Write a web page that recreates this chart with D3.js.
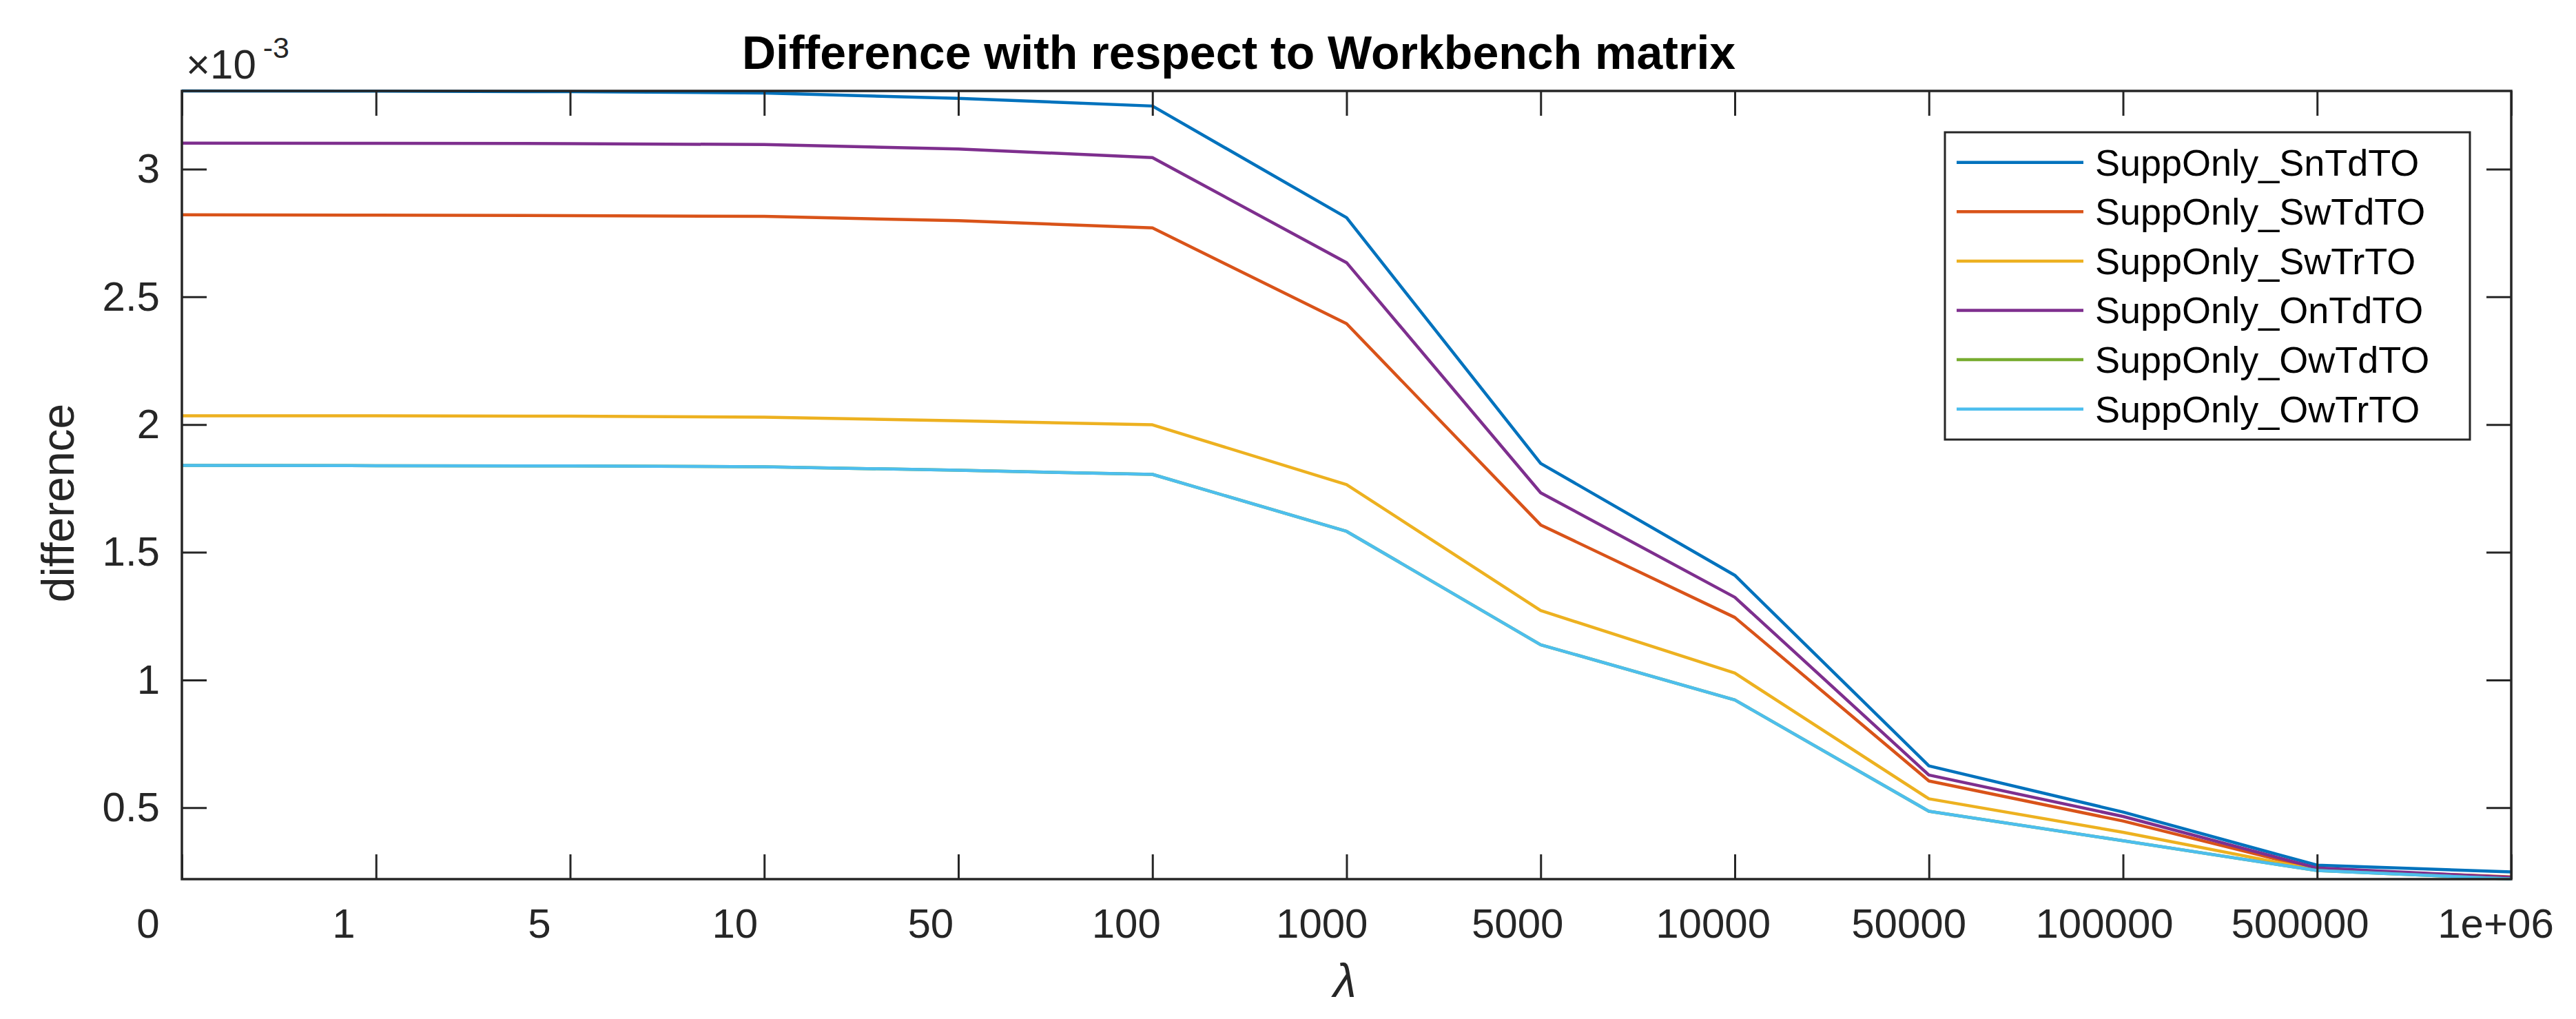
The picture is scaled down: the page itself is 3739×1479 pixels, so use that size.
<!DOCTYPE html>
<html>
<head>
<meta charset="utf-8">
<script src="https://cdn.jsdelivr.net/npm/d3@7"></script>
<style>
  body { margin: 0; background: #fff; }
  text { font-family: "Liberation Sans", Arial, Helvetica, sans-serif; }
</style>
</head>
<body>
<script>
// lambda values shown on the x axis (equally spaced, one per sample)
const lambdaLabels = ["0", "1", "5", "10", "50", "100", "1000", "5000", "10000", "50000", "100000", "500000", "1e+06"];

const seriesNames = ["SuppOnly_SnTdTO", "SuppOnly_SwTdTO", "SuppOnly_SwTrTO", "SuppOnly_OnTdTO", "SuppOnly_OwTdTO", "SuppOnly_OwTrTO"];
const seriesColors = ["#0072BD", "#D95319", "#EDB120", "#7E2F8E", "#77AC30", "#4DBEEE"];

// difference values, in units of 1e-3
const snTdTO = [3.306, 3.305, 3.303, 3.298, 3.277, 3.247, 2.810, 1.848, 1.410, 0.664, 0.483, 0.275, 0.249];
const swTdTO = [2.821, 2.820, 2.818, 2.815, 2.798, 2.770, 2.395, 1.607, 1.245, 0.605, 0.448, 0.259, 0.229];
const swTrTO = [2.034, 2.034, 2.033, 2.029, 2.015, 1.999, 1.765, 1.272, 1.027, 0.535, 0.404, 0.256, 0.223];
const onTdTO = [3.102, 3.101, 3.100, 3.096, 3.079, 3.045, 2.634, 1.733, 1.324, 0.628, 0.466, 0.264, 0.227];
const owTdTO = [1.840, 1.839, 1.838, 1.835, 1.821, 1.805, 1.582, 1.138, 0.922, 0.486, 0.371, 0.254, 0.221];
const owTrTO = [1.840, 1.839, 1.838, 1.835, 1.821, 1.805, 1.582, 1.138, 0.922, 0.486, 0.371, 0.254, 0.221];

const yTicks = [0.5, 1, 1.5, 2, 2.5, 3];
const yMin = 0.2205, yMax = 3.306;

const series = [snTdTO, swTdTO, swTrTO, onTdTO, owTdTO, owTrTO];

const W = 3739, H = 1479;
const margin = { top: 132, right: 94, bottom: 203, left: 264 };
const width = W - margin.left - margin.right;
const height = H - margin.top - margin.bottom;
const axisColor = "#262626";

const svg = d3.select("body").append("svg")
    .attr("width", W)
    .attr("height", H);

const g = svg.append("g")
    .attr("transform", `translate(${margin.left},${margin.top})`);

const x = d3.scaleLinear().domain([0, lambdaLabels.length - 1]).range([0, width]);
// tick labels in the original sit on a slightly wider spread than the ticks
const xLab = d3.scaleLinear().domain([0, lambdaLabels.length - 1]).range([-49.5, 3358]);
const y = d3.scaleLinear().domain([yMin, yMax]).range([height, 0]);

// lines
const line = d3.line()
    .x((d, i) => x(i))
    .y(d => y(d));

g.append("g")
  .selectAll("path")
  .data(series)
  .enter()
  .append("path")
    .attr("d", d => line(d))
    .attr("fill", "none")
    .attr("stroke", (d, i) => seriesColors[i])
    .attr("stroke-width", 4.5)
    .attr("stroke-linejoin", "round");

// axes: ticks point inward on all four sides
const idx = d3.range(lambdaLabels.length);

function styleAxis(sel) {
  sel.select(".domain").remove();
  sel.selectAll(".tick line").attr("stroke", axisColor).attr("stroke-width", 3);
  sel.selectAll("text").attr("fill", axisColor).style("font-size", "60px");
}

g.append("g")
    .attr("transform", `translate(0,${height})`)
    .call(d3.axisBottom(x).tickValues(idx).tickSize(-36).tickFormat(""))
    .call(styleAxis);

g.append("g")
    .call(d3.axisTop(x).tickValues(idx).tickSize(-36).tickFormat(""))
    .call(styleAxis);

g.append("g")
    .attr("transform", `translate(0,${height})`)
    .call(d3.axisBottom(xLab).tickValues(idx).tickSize(0).tickPadding(42)
      .tickFormat(i => lambdaLabels[i]))
    .call(styleAxis);

g.append("g")
    .call(d3.axisLeft(y).tickValues(yTicks).tickSize(-36).tickPadding(32)
      .tickFormat(d => d3.format("~g")(d)))
    .call(styleAxis);

g.append("g")
    .attr("transform", `translate(${width},0)`)
    .call(d3.axisRight(y).tickValues(yTicks).tickSize(-36).tickFormat(""))
    .call(styleAxis);

// box
g.append("rect")
    .attr("width", width)
    .attr("height", height)
    .attr("fill", "none")
    .attr("stroke", axisColor)
    .attr("stroke-width", 3.5);

// exponent
const expo = svg.append("text")
    .attr("x", 270)
    .attr("y", 114)
    .attr("fill", axisColor)
    .style("font-size", "60px");
expo.append("tspan").text("\u00d710");
expo.append("tspan")
    .attr("dy", -30)
    .attr("dx", 10)
    .style("font-size", "43px")
    .text("-3");

// title
svg.append("text")
    .attr("x", 1798)
    .attr("y", 100)
    .attr("text-anchor", "middle")
    .style("font-size", "68px")
    .style("font-weight", "bold")
    .attr("fill", "#000")
    .text("Difference with respect to Workbench matrix");

// axis labels
svg.append("text")
    .attr("x", 1952)
    .attr("y", 1447)
    .attr("text-anchor", "middle")
    .style("font-size", "68px")
    .style("font-style", "italic")
    .attr("fill", axisColor)
    .text("\u03bb");

svg.append("text")
    .attr("transform", "translate(107,730) rotate(-90)")
    .attr("text-anchor", "middle")
    .style("font-size", "66px")
    .attr("fill", axisColor)
    .text("difference");

// legend
const legend = svg.append("g").attr("transform", "translate(2823,192)");
legend.append("rect")
    .attr("width", 762)
    .attr("height", 446)
    .attr("fill", "#fff")
    .attr("stroke", axisColor)
    .attr("stroke-width", 3);

const rows = legend.selectAll("g.row")
  .data(seriesNames)
  .enter()
  .append("g")
    .attr("class", "row")
    .attr("transform", (d, i) => `translate(0,${43.7 + i * 71.6})`);

rows.append("line")
    .attr("x1", 17).attr("x2", 201)
    .attr("stroke", (d, i) => seriesColors[i])
    .attr("stroke-width", 4.5);

rows.append("text")
    .attr("x", 218)
    .attr("dy", "0.35em")
    .style("font-size", "54px")
    .attr("fill", "#000")
    .text(d => d);
</script>
</body>
</html>
